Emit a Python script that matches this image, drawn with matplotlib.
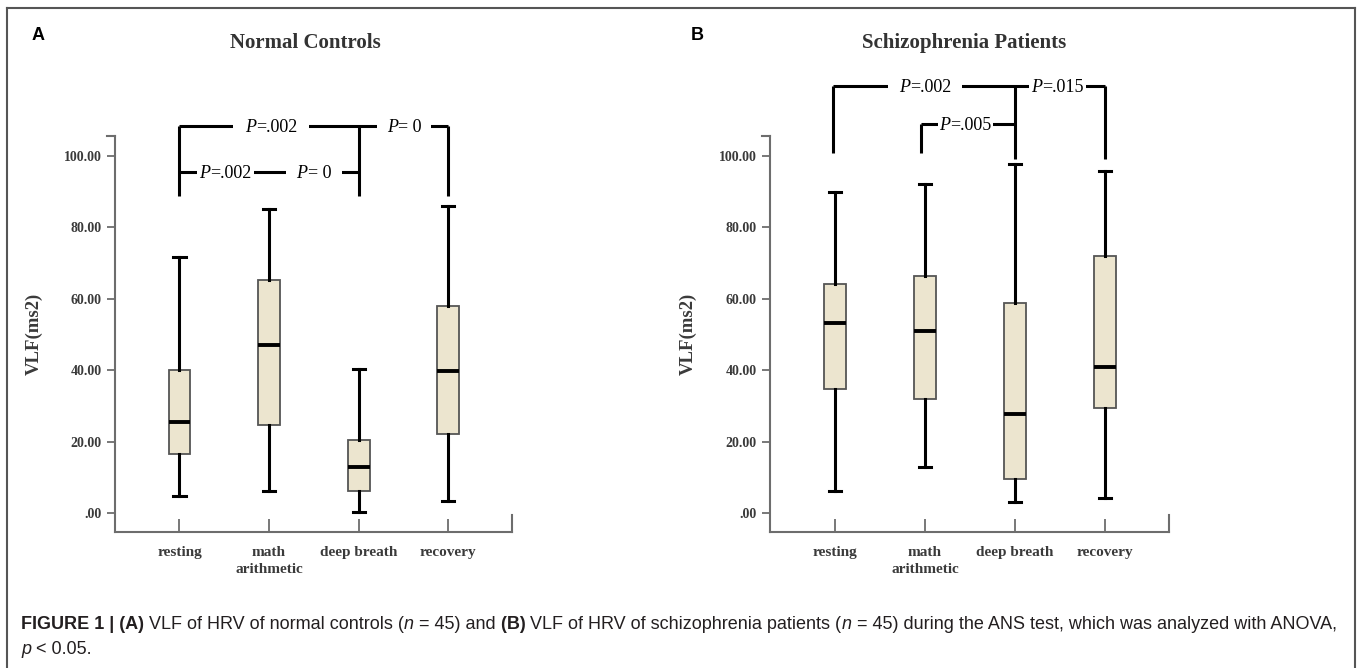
import matplotlib
matplotlib.use("Agg")
import matplotlib.pyplot as plt
from matplotlib.transforms import IdentityTransform
from matplotlib.lines import Line2D
from matplotlib.patches import Rectangle

conditions = ['resting', 'math\narithmetic', 'deep breath', 'recovery']

# normal controls (panel A)
nc_low = [4.9, 6.1, 0.4, 3.3]
nc_q1 = [16.5, 24.7, 6.1, 22.0]
nc_med = [25.6, 47.1, 13.0, 39.7]
nc_q3 = [40.0, 65.2, 20.4, 58.1]
nc_high = [71.8, 85.2, 40.3, 85.9]

# schizophrenia patients (panel B)
sz_low = [6.2, 12.9, 3.1, 4.3]
sz_q1 = [34.7, 31.9, 9.6, 29.5]
sz_med = [53.1, 50.9, 27.7, 41.0]
sz_q3 = [64.1, 66.4, 58.9, 72.0]
sz_high = [90.0, 92.2, 97.7, 95.7]

yticks = [0, 20, 40, 60, 80, 100]
ytick_labels = ['.00', '20.00', '40.00', '60.00', '80.00', '100.00']

# significance brackets: drops (x, ytop, ybottom), lines (x0, x1, y), labels (x, y, text, pad)
drops_a = [(0, 108.5, 88.7), (2, 108.5, 88.7), (3, 108.5, 88.7)]
lines_a = [(0, 3, 108.5), (0, 2, 95.6)]
labels_a = [(1.02, 108.5, '=.002', 12), (2.51, 108.5, '= 0', 10),
            (0.51, 95.6, '=.002', 2.5), (1.5, 95.6, '= 0', 11)]

drops_b = [(-0.02, 119.7, 100.7), (2, 119.7, 99.1), (3, 119.7, 99.1), (0.96, 108.9, 100.7)]
lines_b = [(-0.02, 3, 119.7), (0.96, 2, 108.9)]
labels_b = [(1.0, 119.7, '=.002', 11), (2.47, 119.7, '=.015', 2.5),
            (1.45, 108.9, '=.005', 1.5)]

W, H = 1358, 668
fig = plt.figure(figsize=(W / 100, H / 100), dpi=100)
fig.patch.set_facecolor('white')

SERIF = 'Liberation Serif'
SANS = 'Liberation Sans'
spine_col = '#6d6d6d'
text_col = '#3a3a3a'
XMIN, XMAX = -0.72, 3.71
YMIN, YMAX = -5.4, 105.6


def draw_runs(x, y, parts, ha='left', pad=None, zorder=5):
    r = fig.canvas.get_renderer()
    items = []
    cur = x
    for s, kw in parts:
        t = fig.text(cur, y, s, transform=IdentityTransform(), va='baseline',
                     zorder=zorder, **kw)
        w = t.get_window_extent(r).width
        items.append(t)
        cur += w
    total = cur - x
    if ha == 'center':
        for t in items:
            t.set_x(t.get_position()[0] - total / 2)
    if pad is not None:
        left = x - total / 2 if ha == 'center' else x
        fig.patches.append(Rectangle((left - pad, y - 8), total + 2 * pad, 22,
                                     transform=IdentityTransform(), facecolor='white',
                                     edgecolor='none', zorder=zorder - 1))
    return items


def panel(left_px, right_px, low, q1, med, q3, high, drops, lines, labels):
    ax = fig.add_axes([left_px / W, (H - 532.3) / H, (right_px - left_px) / W, (532.3 - 136) / H])
    stats = []
    for i in range(len(conditions)):
        stats.append(dict(med=med[i], q1=q1[i], q3=q3[i], whislo=low[i], whishi=high[i], fliers=[]))
    ax.bxp(stats, positions=range(len(conditions)), widths=0.245, capwidths=0.135,
           patch_artist=True, showfliers=False,
           boxprops=dict(facecolor='#ece5cf', edgecolor='#555555', linewidth=1.3),
           whiskerprops=dict(color='black', linewidth=2.2),
           capprops=dict(color='black', linewidth=2.2),
           medianprops=dict(color='black', linewidth=2.8))
    ax.set_xlim(XMIN, XMAX)
    ax.set_ylim(YMIN, YMAX)
    ax.set_xticks(range(len(conditions)))
    ax.set_xticklabels(conditions, fontfamily=SERIF, fontweight='bold', fontsize=11,
                       color=text_col, linespacing=1.4)
    ax.set_yticks(yticks)
    ax.set_yticklabels(ytick_labels, fontfamily=SERIF, fontweight='bold', fontsize=10,
                       color=text_col)
    ax.tick_params(axis='y', direction='out', length=5.8, width=1.3, color=spine_col, pad=4)
    ax.tick_params(axis='x', direction='in', length=9.4, width=1.3, color=spine_col, pad=10)
    for s in ['top', 'right']:
        ax.spines[s].set_visible(False)
    for s in ['left', 'bottom']:
        ax.spines[s].set_color(spine_col)
        ax.spines[s].set_linewidth(1.5)
    ax.set_facecolor('none')
    ax.plot([XMIN - 0.09, XMIN], [YMAX, YMAX], color=spine_col, lw=1.5, clip_on=False)
    ax.plot([XMAX, XMAX], [YMIN, YMIN + 4.8], color=spine_col, lw=1.5, clip_on=False)
    ax.set_ylabel('VLF(ms2)', fontfamily=SERIF, fontweight='bold', fontsize=13.5, color=text_col)
    ax.yaxis.set_label_coords(-0.183, 0.5)

    for x, y0, y1 in drops:
        ax.plot([x, x], [y0, y1], color='black', lw=2.2, clip_on=False, solid_capstyle='butt')
    for x0, x1, y in lines:
        ax.plot([x0, x1], [y, y], color='black', lw=2.2, clip_on=False, solid_capstyle='butt')
    for x, y, s, pad in labels:
        px, py = ax.transData.transform((x, y))
        draw_runs(px, py - 6, [('P', dict(family=SERIF, style='italic', fontsize=13, color='black')),
                               (s, dict(family=SERIF, fontsize=13, color='black'))],
                  ha='center', pad=pad)
    return ax


ax_a = panel(115, 511.7, nc_low, nc_q1, nc_med, nc_q3, nc_high, drops_a, lines_a, labels_a)
ax_b = panel(770, 1169, sz_low, sz_q1, sz_med, sz_q3, sz_high, drops_b, lines_b, labels_b)

fig.text(305.7, H - 43, 'Normal Controls', transform=IdentityTransform(), ha='center', va='center',
         family=SERIF, fontweight='bold', fontsize=15, color='#333333')
fig.text(964.5, H - 43, 'Schizophrenia Patients', transform=IdentityTransform(), ha='center',
         va='center', family=SERIF, fontweight='bold', fontsize=15, color='#333333')
fig.text(32, H - 35, 'A', transform=IdentityTransform(), va='center', family=SANS,
         fontweight='bold', fontsize=13, color='black')
fig.text(691, H - 35, 'B', transform=IdentityTransform(), va='center', family=SANS,
         fontweight='bold', fontsize=13, color='black')

# frame around the figure
for xs, ys in [([7, 7], [0, H - 8]), ([7, 1355], [H - 8, H - 8]), ([1355, 1355], [H - 8, 0])]:
    fig.lines.append(Line2D(xs, ys, transform=IdentityTransform(), color='#555555', lw=1.5))

# caption
cap = '#231f20'
fs = 13
norm = dict(family=SANS, fontsize=fs, color=cap)
bold = dict(family=SANS, fontsize=fs, color=cap, fontweight='bold')
ital = dict(family=SANS, fontsize=fs, color=cap, style='italic')
draw_runs(21, H - 629, [('FIGURE 1 | (A)', bold),
                        (' VLF of HRV of normal controls (', norm), ('n', ital),
                        (' = 45) and', norm), (' (B)', bold),
                        (' VLF of HRV of schizophrenia patients (', norm), ('n', ital),
                        (' = 45) during the ANS test, which was analyzed with ANOVA,', norm)])
draw_runs(21, H - 654, [('p', ital), (' < 0.05.', norm)])

fig.savefig('out.png', dpi=100)
